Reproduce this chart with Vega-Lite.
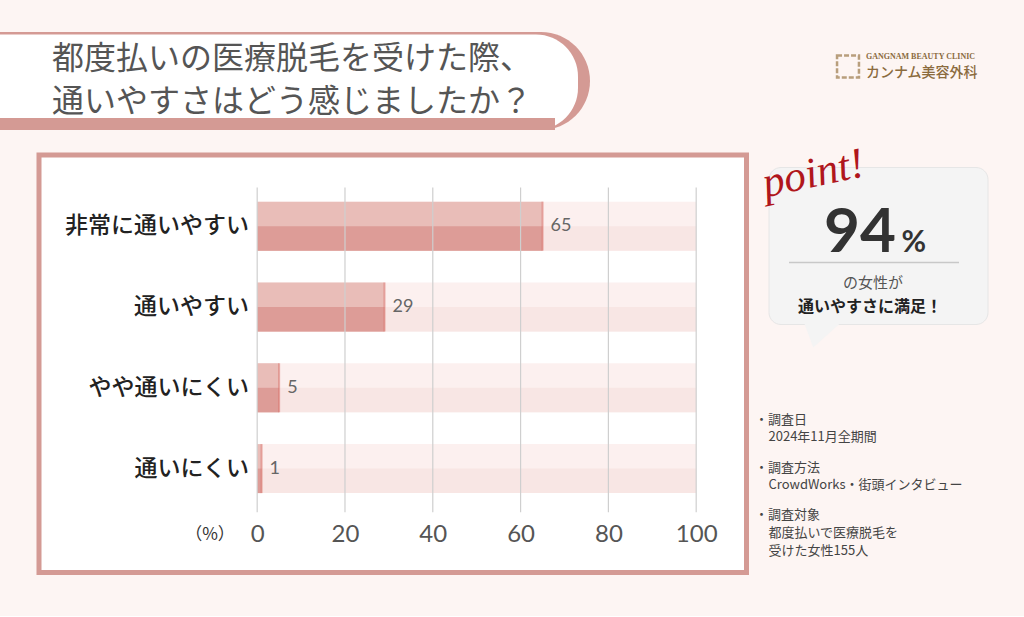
{
  "$schema": "https://vega.github.io/schema/vega-lite/v6.json",
  "background": "#fdf5f3",
  "padding": {"left": 0, "top": 32, "right": 37, "bottom": 41},
  "config": {"view": {"stroke": null}, "font": "Noto Sans CJK JP"},
  "datasets": {
    "survey": [
      {"answer": "非常に通いやすい", "pct": 65},
      {"answer": "通いやすい", "pct": 29},
      {"answer": "やや通いにくい", "pct": 5},
      {"answer": "通いにくい", "pct": 1}
    ],
    "grid": [{"v": 0}, {"v": 20}, {"v": 40}, {"v": 60}, {"v": 80}, {"v": 100}]
  },
  "columns": 1,
  "align": "none",
  "spacing": 12,
  "concat": [
    {
      "spacing": 242,
      "hconcat": [
        {
          "width": 590,
          "height": 98,
          "data": {"values": [{"q": "都度払いの医療脱毛を受けた際、\n通いやすさはどう感じましたか？"}]},
          "layer": [
            {"mark": {"type": "rect", "color": "#d49a94", "cornerRadiusTopRight": 49, "cornerRadiusBottomRight": 49}, "encoding": {}},
            {"mark": {"type": "rect", "color": "#ffffff", "cornerRadiusTopRight": 42, "cornerRadiusBottomRight": 42, "yOffset": 2.5, "xOffset": -12}, "encoding": {}},
            {"mark": {"type": "rect", "color": "#d49a94", "yOffset": 86, "xOffset": -35}, "encoding": {}},
            {
              "mark": {"type": "text", "align": "left", "baseline": "top", "lineBreak": "\n", "lineHeight": 43, "fontSize": 32, "color": "#555555", "dx": -243, "dy": -37},
              "encoding": {"text": {"field": "q"}}
            }
          ]
        },
        {
          "width": 140,
          "height": 98,
          "data": {"values": [{"en": "GANGNAM BEAUTY CLINIC", "ja": "カンナム美容外科"}]},
          "layer": [
            {"mark": {"type": "point", "shape": "square", "size": 480, "filled": false, "color": "#9c7a4a", "strokeWidth": 2.5, "strokeDash": [5, 2], "xOffset": -56, "yOffset": -14.5}, "encoding": {}},
            {"mark": {"type": "text", "align": "left", "baseline": "middle", "dx": -38, "dy": -24, "font": "Liberation Serif", "fontWeight": "bold", "fontSize": 8, "color": "#8b6b3e"}, "encoding": {"text": {"field": "en"}}},
            {"mark": {"type": "text", "align": "left", "baseline": "middle", "dx": -38, "dy": -8, "fontSize": 14, "fontWeight": 500, "color": "#8b6b3e"}, "encoding": {"text": {"field": "ja"}}}
          ]
        }
      ]
    },
    {
      "spacing": 22,
      "bounds": "flush",
      "hconcat": [
        {
          "width": 16.5,
          "height": 10,
          "data": {"values": []},
          "mark": "text",
          "encoding": {}
        },
        {
          "width": 707.5,
          "height": 417.5,
          "view": {"fill": "#ffffff", "stroke": "#d49a94", "strokeWidth": 5},
          "data": {"name": "survey"},
          "layer": [
            {
              "mark": {"type": "bar", "color": "#fcf0ef"},
              "encoding": {
                "y": {
                  "field": "answer",
                  "type": "nominal",
                  "scale": {"domain": ["非常に通いやすい", "通いやすい", "やや通いにくい", "通いにくい"], "paddingInner": 0.394, "paddingOuter": 0.78, "align": 0.37},
                  "axis": {"orient": "left", "offset": -218.5, "domain": false, "ticks": false, "grid": false, "labelPadding": 9, "labelFontSize": 23, "labelColor": "#222222", "labelFontWeight": 500, "labelLimit": 400, "title": null}
                },
                "x": {
                  "datum": 0,
                  "type": "quantitative",
                  "scale": {"domain": [-49.7, 111.46], "nice": false, "zero": false},
                  "axis": {"values": [0, 20, 40, 60, 80, 100], "offset": -60, "domain": false, "ticks": false, "grid": false, "labelFontSize": 24, "labelColor": "#555555", "labelFont": "Lato", "labelPadding": 10, "title": "（%）", "titleFontSize": 17, "titleFontWeight": "normal", "titleColor": "#333333", "titleX": 170.5, "titleY": 22, "titleAlign": "center", "titleBaseline": "middle"}
                },
                "x2": {"datum": 100}
              }
            },
            {
              "mark": {"type": "bar", "color": "#f8e6e4", "height": {"band": 0.5}, "yOffset": 12.25},
              "encoding": {
                "y": {"field": "answer", "type": "nominal"},
                "x": {"datum": 0, "type": "quantitative"},
                "x2": {"datum": 100}
              }
            },
            {
              "mark": {"type": "bar", "color": "#e9bdb8"},
              "encoding": {
                "y": {"field": "answer", "type": "nominal"},
                "x": {"field": "pct", "type": "quantitative"},
                "x2": {"datum": 0}
              }
            },
            {
              "mark": {"type": "bar", "color": "#dd9c97", "height": {"band": 0.5}, "yOffset": 12.25},
              "encoding": {
                "y": {"field": "answer", "type": "nominal"},
                "x": {"field": "pct", "type": "quantitative"},
                "x2": {"datum": 0}
              }
            },
            {
              "mark": {"type": "tick", "color": "#d9736c", "thickness": 2, "size": 49, "opacity": 0.55},
              "encoding": {
                "y": {"field": "answer", "type": "nominal"},
                "x": {"field": "pct", "type": "quantitative"}
              }
            },
            {
              "data": {"name": "grid"},
              "mark": {"type": "rule", "color": "#cfcfcf", "strokeWidth": 1.2},
              "encoding": {
                "x": {"field": "v", "type": "quantitative"},
                "y": {"datum": "非常に通いやすい", "type": "nominal", "bandPosition": -0.29},
                "y2": {"datum": "通いにくい", "bandPosition": 1.39}
              }
            },
            {
              "mark": {"type": "text", "align": "left", "baseline": "middle", "dx": 8, "fontSize": 18, "color": "#666666", "font": "Lato"},
              "encoding": {
                "y": {"field": "answer", "type": "nominal"},
                "x": {"field": "pct", "type": "quantitative"},
                "text": {"field": "pct"}
              }
            }
          ]
        },
        {
          "width": 219,
          "height": 169.5,
          "data": {"values": [{"a": "point!", "b": "94", "c": "%", "d": "の女性が", "e": "通いやすさに満足！", "h1": "・調査日", "b1": "2024年11月全期間", "h2": "・調査方法", "b2": "CrowdWorks・街頭インタビュー", "h3": "・調査対象", "b3": "都度払いで医療脱毛を", "b4": "受けた女性155人"}]},
          "layer": [
            {"mark": {"type": "rect", "color": "#f4f4f4", "stroke": "#e6e6e6", "strokeWidth": 1, "cornerRadius": 12, "yOffset": 12.5}, "encoding": {}},
            {"mark": {"type": "point", "shape": "M-1,-0.7L1,-0.7L-0.5,0.65Z", "size": 1369, "filled": true, "color": "#f4f4f4", "opacity": 1, "strokeWidth": 0, "xOffset": -56, "yOffset": 95.75}, "encoding": {}},
            {"mark": {"type": "text", "align": "center", "baseline": "middle", "dx": -50, "dy": -78, "angle": -12, "font": "Liberation Serif", "fontStyle": "italic", "fontSize": 43, "color": "#b0161c"}, "encoding": {"text": {"field": "a"}}},
            {"mark": {"type": "text", "align": "right", "baseline": "alphabetic", "dx": 17.5, "dy": 11.75, "font": "Lato", "fontWeight": "bold", "fontSize": 62, "color": "#333333"}, "encoding": {"text": {"field": "b"}}},
            {"mark": {"type": "text", "align": "left", "baseline": "alphabetic", "dx": 23, "dy": 11.75, "font": "Lato", "fontWeight": "bold", "fontSize": 30, "color": "#333333"}, "encoding": {"text": {"field": "c"}}},
            {"mark": {"type": "tick", "orient": "horizontal", "size": 170, "thickness": 1.5, "color": "#b5b5b5", "xOffset": -4.5, "yOffset": 22.75}, "encoding": {}},
            {"mark": {"type": "text", "align": "center", "baseline": "middle", "dx": -5.5, "dy": 42.75, "fontSize": 15, "color": "#555555"}, "encoding": {"text": {"field": "d"}}},
            {"mark": {"type": "text", "align": "center", "baseline": "middle", "dx": -8.5, "dy": 66.75, "fontSize": 16, "fontWeight": "bold", "color": "#222222"}, "encoding": {"text": {"field": "e"}}},
            {"mark": {"type": "text", "align": "left", "baseline": "middle", "dx": -123.5, "dy": 179.75, "fontSize": 13, "color": "#444444"}, "encoding": {"text": {"field": "h1"}}},
            {"mark": {"type": "text", "align": "left", "baseline": "middle", "dx": -110, "dy": 196.75, "fontSize": 13, "color": "#444444"}, "encoding": {"text": {"field": "b1"}}},
            {"mark": {"type": "text", "align": "left", "baseline": "middle", "dx": -123.5, "dy": 227.75, "fontSize": 13, "color": "#444444"}, "encoding": {"text": {"field": "h2"}}},
            {"mark": {"type": "text", "align": "left", "baseline": "middle", "dx": -110, "dy": 244.75, "fontSize": 13, "color": "#444444"}, "encoding": {"text": {"field": "b2"}}},
            {"mark": {"type": "text", "align": "left", "baseline": "middle", "dx": -123.5, "dy": 275.25, "fontSize": 13, "color": "#444444"}, "encoding": {"text": {"field": "h3"}}},
            {"mark": {"type": "text", "align": "left", "baseline": "middle", "dx": -110, "dy": 292.75, "fontSize": 13, "color": "#444444"}, "encoding": {"text": {"field": "b3"}}},
            {"mark": {"type": "text", "align": "left", "baseline": "middle", "dx": -110, "dy": 310.75, "fontSize": 13, "color": "#444444"}, "encoding": {"text": {"field": "b4"}}}
          ]
        }
      ]
    }
  ]
}
